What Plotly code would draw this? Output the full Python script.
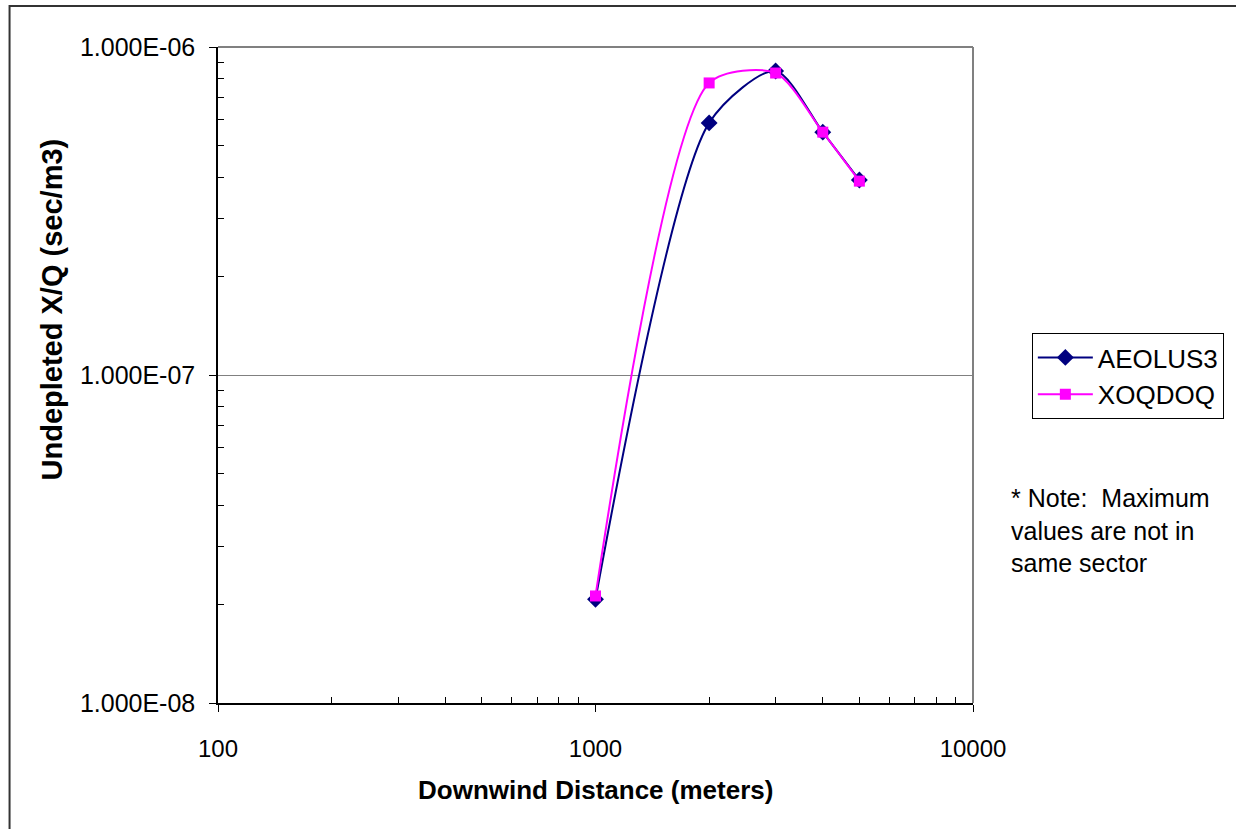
import plotly.graph_objects as go

distance = [1000, 2000, 3000, 4000, 5000]
aeolus3 = [2.07e-8, 5.87e-7, 8.45e-7, 5.50e-7, 3.93e-7]
xoqdoq = [2.12e-8, 7.77e-7, 8.33e-7, 5.50e-7, 3.90e-7]

y_tickvals = [1e-8, 1e-7, 1e-6]
y_ticktext = ["1.000E-08", "1.000E-07", "1.000E-06"]
x_tickvals = [100, 1000, 10000]
x_ticktext = ["100", "1000", "10000"]

FONT = "Liberation Sans, Arial, sans-serif"

x_minor = [m * 10 ** e for e in (2, 3) for m in range(2, 10)]
y_minor = [m * 10.0 ** e for e in (-8, -7) for m in range(2, 10)]

fig = go.Figure()
fig.add_trace(go.Scatter(
    x=distance, y=aeolus3, name="AEOLUS3", mode="lines+markers",
    line=dict(color="#000080", width=2, shape="spline", smoothing=0.75),
    marker=dict(symbol="diamond", size=13, color="#000080", line=dict(width=0)),
))
fig.add_trace(go.Scatter(
    x=distance, y=xoqdoq, name="XOQDOQ", mode="lines+markers",
    line=dict(color="#FF00FF", width=2, shape="spline", smoothing=0.75),
    marker=dict(symbol="square", size=11, color="#FF00FF", line=dict(width=0)),
))

L, R, T, B = 218, 261, 47, 126
W, H = 1236, 829
pw, ph = W - L - R, H - T - B

def px2paper_x(px):
    return (px - L) / pw

def px2paper_y(py):
    return (H - B - py) / ph

fig.update_layout(
    width=W, height=H,
    margin=dict(l=L, r=R, t=T, b=B, pad=0),
    paper_bgcolor="white", plot_bgcolor="white",
    font=dict(family=FONT, size=24, color="black"),
    showlegend=True,
    legend=dict(
        x=px2paper_x(1034), y=px2paper_y(333), xanchor="left", yanchor="top",
        bordercolor="black", borderwidth=1, bgcolor="white",
        font=dict(family=FONT, size=26, color="black"),
        itemwidth=55, traceorder="normal",
    ),
    xaxis=dict(
        type="log", range=[2, 4],
        tickmode="array", tickvals=x_tickvals, ticktext=x_ticktext,
        ticks="outside", ticklen=7, tickwidth=1, tickcolor="black",
        ticklabelstandoff=16,
        showline=True, linecolor="black", linewidth=1.5,
        showgrid=False, zeroline=False,
        minor=dict(tickmode="array", tickvals=x_minor, ticks="inside",
                   ticklen=6, tickcolor="black", tickwidth=1, showgrid=False),
        tickfont=dict(size=24),
    ),
    yaxis=dict(
        type="log", range=[-8, -6],
        tickmode="array", tickvals=y_tickvals, ticktext=y_ticktext,
        ticks="outside", ticklen=7, tickwidth=1, tickcolor="black",
        ticklabelstandoff=9,
        showline=True, linecolor="black", linewidth=1.5,
        showgrid=True, gridcolor="#808080", gridwidth=1, zeroline=False,
        minor=dict(tickmode="array", tickvals=y_minor, ticks="inside",
                   ticklen=6, tickcolor="black", tickwidth=1, showgrid=False),
        tickfont=dict(size=25),
    ),
    shapes=[
        dict(type="line", xref="paper", yref="paper", x0=0, x1=1, y0=1, y1=1,
             line=dict(color="#808080", width=2), layer="below"),
        dict(type="line", xref="paper", yref="paper", x0=1, x1=1, y0=0, y1=1,
             line=dict(color="#808080", width=2), layer="below"),
        dict(type="rect", xref="paper", yref="paper",
             x0=px2paper_x(9), x1=1.6, y0=-0.5, y1=px2paper_y(6),
             line=dict(color="#333333", width=2), fillcolor="rgba(0,0,0,0)"),
    ],
    annotations=[
        dict(text="<b>Downwind Distance (meters)</b>", xref="paper", yref="paper",
             x=px2paper_x(597), y=px2paper_y(790), xanchor="center", yanchor="middle",
             showarrow=False, font=dict(size=26)),
        dict(text="<b>Undepleted X/Q (sec/m3)</b>", xref="paper", yref="paper",
             x=px2paper_x(52), y=px2paper_y(309), xanchor="center", yanchor="middle",
             textangle=-90, showarrow=False, font=dict(size=29)),
        dict(text="* Note:  Maximum<br>values are not in<br>same sector",
             xref="paper", yref="paper", x=px2paper_x(1011), y=px2paper_y(482),
             xanchor="left", yanchor="top", align="left", showarrow=False,
             font=dict(size=25)),
    ],
)

fig.write_html("out.html")
